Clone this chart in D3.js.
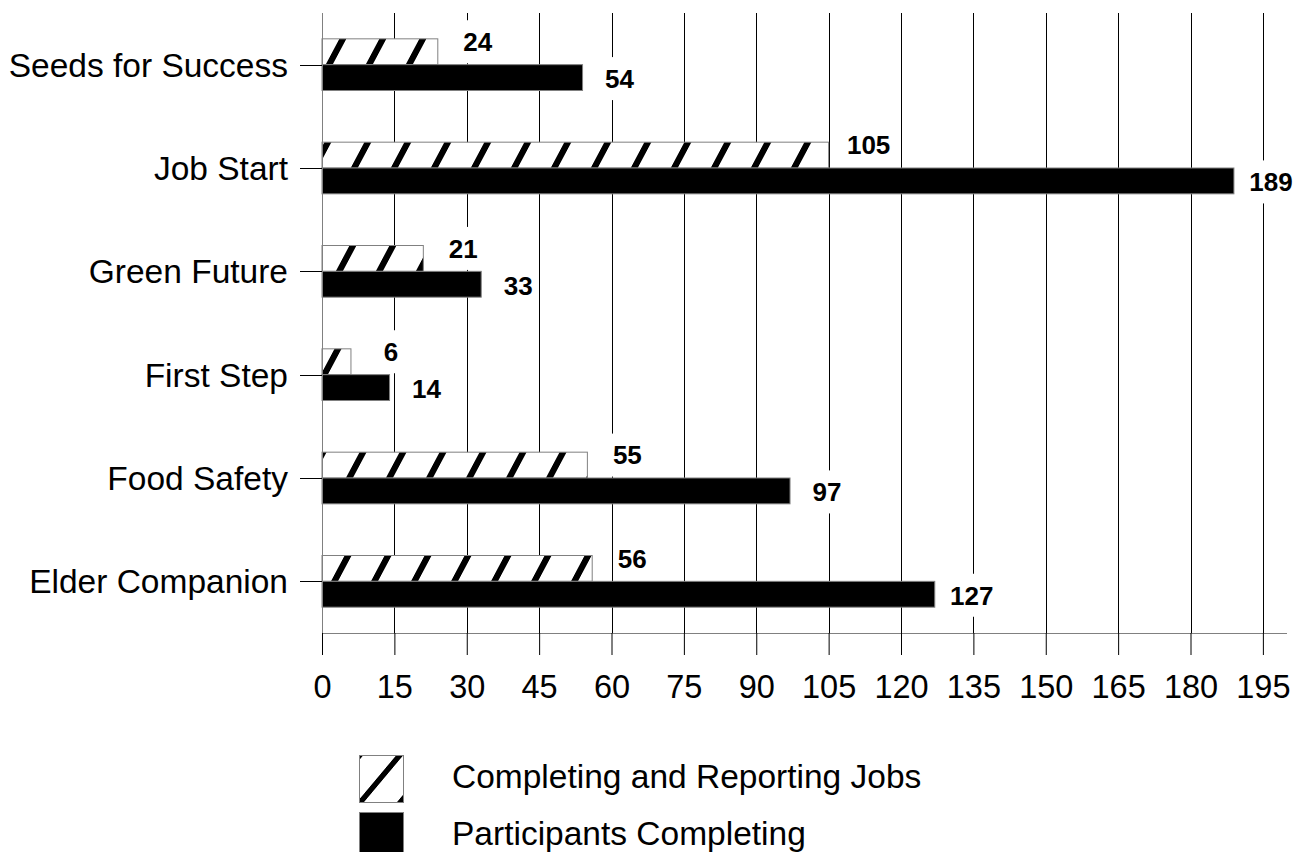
<!DOCTYPE html>
<html>
<head>
<meta charset="utf-8">
<script src="https://cdn.jsdelivr.net/npm/d3@7"></script>
<style>
  html, body { margin: 0; padding: 0; background: #fff; }
  svg { display: block; font-family: "Liberation Sans", Arial, sans-serif; }
</style>
</head>
<body>
<svg id="chart" width="1300" height="852"></svg>
<script>
// Program outcomes by training track
const categories = ["Seeds for Success", "Job Start", "Green Future", "First Step", "Food Safety", "Elder Companion"];
const seriesNames = ["Completing and Reporting Jobs", "Participants Completing"];
const reportingJobs = [24, 105, 21, 6, 55, 56];
const participantsCompleting = [54, 189, 33, 14, 97, 127];
const tickValues = [0, 15, 30, 45, 60, 75, 90, 105, 120, 135, 150, 165, 180, 195];
const axisMax = 200;

const svg = d3.select("#chart");
const plot = { left: 322, right: 1287, top: 13, bottom: 633 };

const x = d3.scaleLinear().domain([0, axisMax]).range([plot.left, plot.right]);
const y = d3.scaleBand().domain(categories).range([plot.top, plot.bottom]).padding(0);
const sub = d3.scaleBand().domain(seriesNames)
  .range([y.bandwidth() * 0.25, y.bandwidth() * 0.75]);

const rows = categories.map((c, i) => ({
  category: c,
  values: [
    { series: seriesNames[0], value: reportingJobs[i] },
    { series: seriesNames[1], value: participantsCompleting[i] }
  ]
}));

// Diagonal hatch: vertical stripes skewed into "/" shapes
const defs = svg.append("defs");
function hatch(id, period, thick, skew, ox) {
  const p = defs.append("pattern")
    .attr("id", id)
    .attr("patternUnits", "userSpaceOnUse")
    .attr("x", ox).attr("y", 0)
    .attr("width", period).attr("height", 20)
    .attr("patternTransform", `skewX(${skew})`);
  p.append("rect").attr("width", period).attr("height", 20).attr("fill", "#fff");
  p.append("rect").attr("x", 0).attr("width", thick).attr("height", 20).attr("fill", "#000");
}
hatch("hatchBar", 40, 7, -28, 0);
hatch("hatchKey", 40, 7, -40, 30);

// Gridlines
const gridTicks = tickValues.filter(t => t > 0);
svg.append("g").selectAll("line").data(gridTicks).join("line")
  .attr("x1", d => Math.round(x(d)) + 0.5).attr("x2", d => Math.round(x(d)) + 0.5)
  .attr("y1", plot.top).attr("y2", plot.bottom)
  .attr("stroke", "#000").attr("stroke-width", 1);

// Value label data
const labelFont = 26;
const labels = [];
rows.forEach(r => {
  r.values.forEach((v, j) => {
    const barMid = y(r.category) + sub(v.series) + sub.bandwidth() / 2;
    labels.push({
      text: String(v.value),
      cx: x(v.value) + (j === 0 ? 40 : 37),
      mid: j === 0 ? barMid - 10 : barMid + 1
    });
  });
});

// White label boxes interrupt the gridlines
const labelLayer = svg.append("g");
const texts = labelLayer.selectAll("text").data(labels).join("text")
  .attr("x", d => d.cx)
  .attr("y", d => d.mid + labelFont * 0.36)
  .attr("text-anchor", "middle")
  .attr("font-size", labelFont)
  .attr("font-weight", "bold")
  .attr("fill", "#000")
  .text(d => d.text);
texts.each(function (d) { d.w = this.getComputedTextLength(); });
labelLayer.insert("g", "text").selectAll("rect").data(labels).join("rect")
  .attr("x", d => d.cx - d.w / 2 - 4)
  .attr("y", d => d.mid - 21.5)
  .attr("width", d => d.w + 8)
  .attr("height", 43)
  .attr("fill", "#fff");

// Bars
const barG = svg.append("g");
rows.forEach(r => {
  barG.selectAll(null).data(r.values).join("rect")
    .attr("x", x(0))
    .attr("y", d => y(r.category) + sub(d.series))
    .attr("width", d => x(d.value) - x(0))
    .attr("height", sub.bandwidth())
    .attr("fill", (d, j) => j === 0 ? "url(#hatchBar)" : "#000")
    .attr("stroke", "#808080")
    .attr("stroke-width", 1);
});
labelLayer.raise();

// Category axis
svg.append("line")
  .attr("x1", plot.left + 0.5).attr("x2", plot.left + 0.5)
  .attr("y1", plot.top).attr("y2", plot.bottom)
  .attr("stroke", "#808080");
svg.append("g").selectAll("line").data(categories).join("line")
  .attr("x1", plot.left - 22).attr("x2", plot.left)
  .attr("y1", d => Math.round(y(d) + y.bandwidth() / 2) + 0.5)
  .attr("y2", d => Math.round(y(d) + y.bandwidth() / 2) + 0.5)
  .attr("stroke", "#000");
svg.append("g").selectAll("text").data(categories).join("text")
  .attr("x", 288)
  .attr("y", d => y(d) + y.bandwidth() / 2 + 12)
  .attr("text-anchor", "end")
  .attr("font-size", 33.5)
  .attr("fill", "#000")
  .text(d => d);

// Value axis
const xAxis = d3.axisBottom(x).tickValues(tickValues).tickSize(22).tickPadding(20);
const xg = svg.append("g").attr("transform", `translate(0,${plot.bottom})`).call(xAxis);
xg.select(".domain").attr("stroke", "#808080").attr("d", `M${plot.left},0.5H${plot.right}`);
xg.selectAll(".tick line").attr("stroke", "#000");
xg.selectAll(".tick text").attr("font-size", 32.5).attr("fill", "#000")
  .attr("font-family", "Liberation Sans, Arial, sans-serif");

// Legend
const legend = svg.append("g");
const keys = [
  { name: seriesNames[0], fill: "url(#hatchKey)", y: 755 },
  { name: seriesNames[1], fill: "#000", y: 812 }
];
legend.selectAll("rect").data(keys).join("rect")
  .attr("x", 359.5).attr("y", d => d.y + 0.5)
  .attr("width", 44).attr("height", 47)
  .attr("fill", d => d.fill)
  .attr("stroke", "#808080");
legend.selectAll("text").data(keys).join("text")
  .attr("x", 452)
  .attr("y", d => d.y + 33)
  .attr("font-size", 33.5)
  .attr("fill", "#000")
  .text(d => d.name);
</script>
</body>
</html>
